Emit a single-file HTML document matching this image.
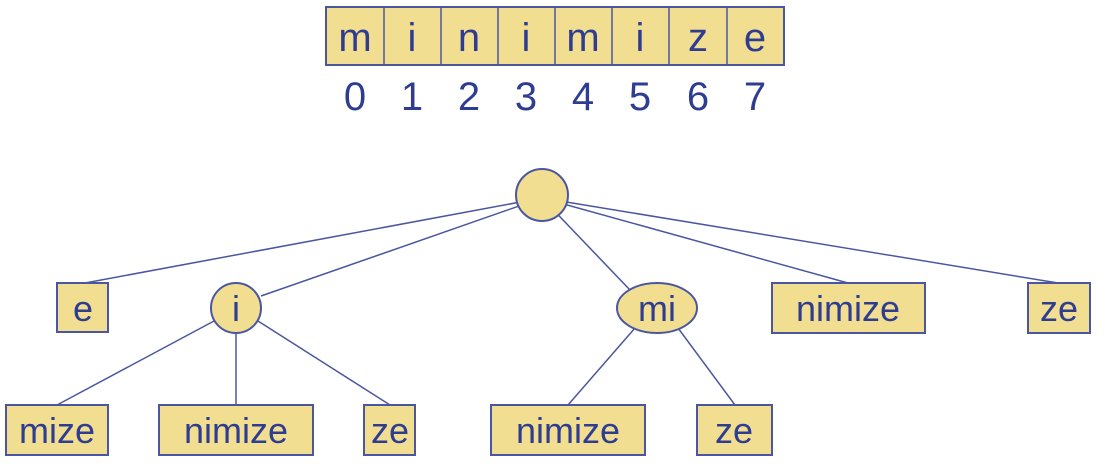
<!DOCTYPE html>
<html><head><style>
html,body{margin:0;padding:0;background:#fff;}
svg text{font-family:"Liberation Sans",sans-serif;fill:#2f3d91;}
</style></head><body>
<svg width="1109" height="459" viewBox="0 0 1109 459" xmlns="http://www.w3.org/2000/svg">
<g stroke="#4a57a0" stroke-width="1.5" fill="none">
<line x1="542" y1="198" x2="85" y2="283"/>
<line x1="542" y1="198" x2="261" y2="296"/>
<line x1="542" y1="198" x2="630" y2="290"/>
<line x1="542" y1="198" x2="848" y2="283"/>
<line x1="542" y1="198" x2="1058" y2="283"/>
<line x1="214" y1="321" x2="57" y2="405"/>
<line x1="236" y1="330" x2="236" y2="405"/>
<line x1="258" y1="321" x2="390" y2="405"/>
<line x1="635" y1="328" x2="568" y2="405"/>
<line x1="678" y1="328" x2="735" y2="405"/>
</g>
<g fill="#f2de91" stroke="#4a57a0" stroke-width="2">
<rect x="326" y="7" width="458" height="58"/>
<circle cx="542" cy="195" r="26"/>
<rect x="57" y="283" width="51" height="49"/>
<circle cx="236" cy="308" r="25"/>
<ellipse cx="657" cy="308" rx="40" ry="25"/>
<rect x="772" y="283" width="153" height="50"/>
<rect x="1028" y="283" width="62" height="50"/>
<rect x="6" y="405" width="102" height="50"/>
<rect x="159" y="405" width="154" height="50"/>
<rect x="364" y="405" width="51" height="50"/>
<rect x="491" y="405" width="154" height="50"/>
<rect x="697" y="405" width="75" height="50"/>
</g>
<g stroke="#4a57a0" stroke-width="1.5">
<line x1="384" y1="7" x2="384" y2="65"/><line x1="441" y1="7" x2="441" y2="65"/>
<line x1="498" y1="7" x2="498" y2="65"/><line x1="555" y1="7" x2="555" y2="65"/>
<line x1="612" y1="7" x2="612" y2="65"/><line x1="669" y1="7" x2="669" y2="65"/>
<line x1="727" y1="7" x2="727" y2="65"/>
</g>
<g font-size="40" text-anchor="middle">
<text x="355" y="51">m</text><text x="412" y="51">i</text><text x="469" y="51">n</text><text x="526" y="51">i</text>
<text x="583" y="51">m</text><text x="640" y="51">i</text><text x="698" y="51">z</text><text x="755" y="51">e</text>
<text x="355" y="110">0</text><text x="412" y="110">1</text><text x="469" y="110">2</text><text x="526" y="110">3</text>
<text x="583" y="110">4</text><text x="640" y="110">5</text><text x="698" y="110">6</text><text x="755" y="110">7</text>
</g>
<g font-size="36" text-anchor="middle">
<text x="83" y="321">e</text>
<text x="236" y="321">i</text>
<text x="657" y="321">mi</text>
<text x="848" y="321">nimize</text>
<text x="1059" y="321">ze</text>
<text x="57" y="443">mize</text>
<text x="236" y="443">nimize</text>
<text x="390" y="443">ze</text>
<text x="568" y="443">nimize</text>
<text x="734" y="443">ze</text>
</g>
</svg>
</body></html>
